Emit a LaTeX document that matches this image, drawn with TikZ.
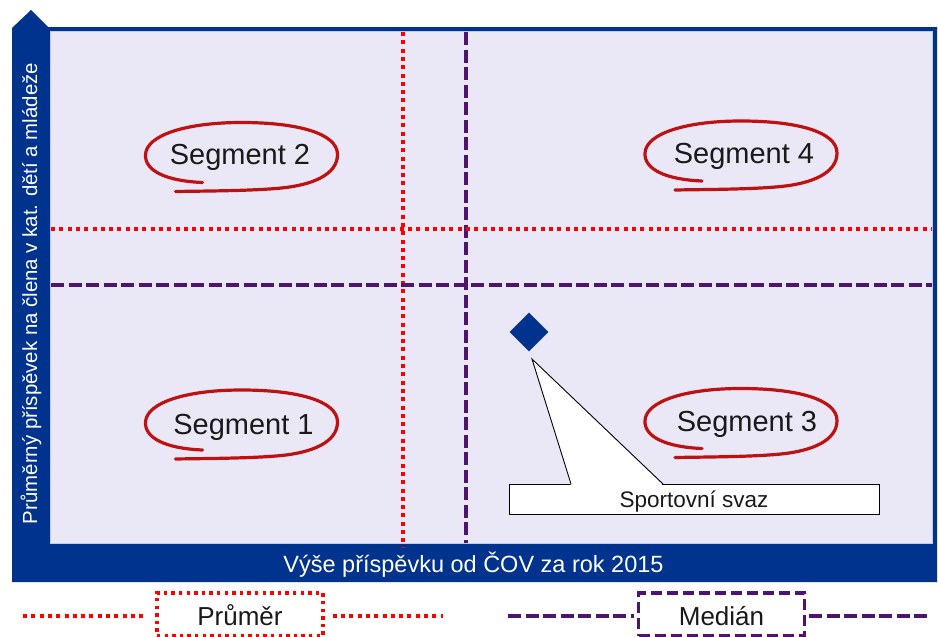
\documentclass[tikz,border=0pt]{standalone}
\usepackage{fontspec}
\setmainfont{Liberation Sans}
\usetikzlibrary{shapes.geometric}
\definecolor{kblue}{RGB}{0,51,141}
\definecolor{bglav}{RGB}{234,232,246}
\definecolor{mred}{RGB}{255,0,0}
\definecolor{mpurp}{RGB}{77,21,110}
\definecolor{loopred}{RGB}{190,18,18}
\definecolor{txt}{RGB}{25,25,25}
\tikzset{
  reddot/.style={mred, line width=4, dash pattern=on 4 off 4.3},
  purpdash/.style={mpurp, line width=4, dash pattern=on 13 off 4.5},
  segtext/.style={text=txt, anchor=base, inner sep=0, font=\fontsize{29}{34}\selectfont},
  looppath/.style={loopred, line width=3.2, line cap=round},
  legbox/.style={minimum width=166, minimum height=43, inner sep=0, text height=24, text depth=3, font=\fontsize{26}{30}\selectfont, text=txt},
  segloop/.pic={
    \draw[looppath] (-39,25.5) .. controls (-75,24) and (-97,14) .. (-96,-2.5)
      .. controls (-95,-22) and (-55,-34.5) .. (0,-34.5)
      .. controls (55,-34.5) and (96,-24) .. (96,-2.5)
      .. controls (96,18) and (70,28) .. (40,31)
      .. controls (10,34) and (-40,34) .. (-66,34.5);
  }
}
\begin{document}
\begin{tikzpicture}[x=1pt,y=-1pt]
\useasboundingbox (0,0) rectangle (938,637);
\fill[white] (0,0) rectangle (938,637);
% frame
\fill[kblue] (12,582) -- (12,28) -- (31,10) -- (48,27) -- (937,27) -- (937,582) -- cycle;
\fill[bglav] (51,32) rectangle (932,543);
\draw[white!75!kblue, line width=0.8] (50.5,31.5) rectangle (932.5,543.5);
% guide lines
\coordinate (rvt) at (403,32);
\coordinate (rvb) at (403,547);
\coordinate (pvt) at (466,32);
\coordinate (pvb) at (466,543);
\coordinate (rhl) at (51,229);
\coordinate (rhr) at (932,229);
\coordinate (phl) at (51,284.5);
\coordinate (phr) at (932,284.5);
\draw[reddot] (rvt) -- (rvb);
\draw[purpdash] (pvt) -- (pvb);
\draw[reddot] (rhl) -- (rhr);
\draw[purpdash] (phl) -- (phr);
% segments
\pic (l2) at (241.5,157) {segloop};
\pic (l4) at (741,155.5) {segloop};
\pic (l1) at (241.5,424.5) {segloop};
\pic (l3) at (741,423) {segloop};
\node[segtext] (s2) at (240,164) {Segment 2};
\node[segtext] (s4) at (744,163) {Segment 4};
\node[segtext] (s1) at (243.5,434) {Segment 1};
\node[segtext] (s3) at (747,431) {Segment 3};
% data point and callout
\node[diamond, fill=kblue, minimum width=39, minimum height=39, inner sep=0] (dia) at (529,332) {};
\node[draw=black, line width=0.9, fill=white, minimum width=370, minimum height=30, inner sep=0, text height=19, text depth=3, text=txt, font=\fontsize{22.5}{26}\selectfont] (sv) at (694,499) {Sportovní svaz};
\coordinate (tip) at (532,359);
\coordinate (cbl) at (571,484);
\coordinate (cbr) at (663,484);
\fill[white] ([yshift=-1.5]cbl) -- (tip) -- ([yshift=-1.5]cbr) -- cycle;
\draw[black, line width=0.9, line join=miter] (cbl) -- (tip) -- (cbr);
% axis labels
\node[anchor=base, inner sep=0, text=white, font=\fontsize{23.5}{28}\selectfont] (xl) at (473.5,572) {Výše příspěvku od ČOV za rok 2015};
\node[anchor=base, rotate=90, inner sep=0, text=white, font=\fontsize{20.4}{24}\selectfont] (yl) at (37,293.5) {Průměrný příspěvek na člena v kat. dětí a mládeže};
% legend
\node[legbox, draw=mred, line width=3.4, dash pattern=on 3.4 off 4.2] (lp) at (240,614.5) {Průměr};
\node[legbox, draw=mpurp, line width=3.4, dash pattern=on 11 off 5] (lm) at (721.5,614.5) {Medián};
\coordinate (lpl) at (23,616);
\coordinate (lpr) at (443,616);
\coordinate (lml) at (508,616);
\coordinate (lmr) at (928,616);
\draw[reddot] (lpl) -- ([xshift=-10]lp.west |- lpl);
\draw[reddot] ([xshift=8]lp.east |- lpr) -- (lpr);
\draw[purpdash] (lml) -- ([xshift=-3]lm.west |- lml);
\draw[purpdash] ([xshift=3]lm.east |- lmr) -- (lmr);
\end{tikzpicture}
\end{document}
